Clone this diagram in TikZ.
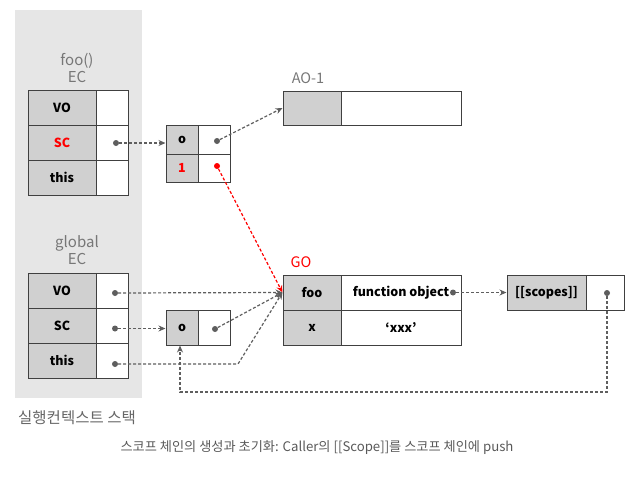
\documentclass[tikz,border=0pt]{standalone}
\usepackage{fontspec}
\setmainfont{Noto Sans CJK KR}
\usetikzlibrary{arrows.meta,positioning}
\definecolor{panelgray}{HTML}{E6E6E6}
\definecolor{cellgray}{HTML}{D0D0D0}
\definecolor{linegray}{HTML}{5E5E5E}
\definecolor{textgray}{HTML}{777777}

\begin{document}
\begin{tikzpicture}[x=1pt, y=-1pt,
    cell/.style={rectangle, draw=black!75, line width=1pt, minimum height=35pt,
                 inner sep=0pt, text centered, font=\bfseries\fontsize{12.5}{14}\selectfont},
    keycell/.style={cell, fill=cellgray},
    valcell/.style={cell, fill=white},
    dot/.style={circle, fill=linegray, inner sep=0pt, minimum size=6pt},
    reddot/.style={dot, fill=red},
    ptr/.style={dash pattern=on 3pt off 2pt, line width=1.2pt, draw=linegray,
                -{Stealth[length=7pt,width=6pt]}},
    redptr/.style={ptr, draw=red, -{Stealth[length=7pt,width=6pt,red]}},
    title/.style={align=center, text=textgray, font=\fontsize{15}{17}\selectfont}
]
\useasboundingbox (0,0) rectangle (634,483);

% Stack panel
\node[fill=panelgray, minimum width=127pt, minimum height=388pt, inner sep=0pt] (stack) at (78.5,204) {};

% foo() EC
\node[title] (fooec) at (77,68) {foo()\\EC};
\node[keycell, minimum width=68pt] (fvo-k) at (62,107.5) {VO};
\node[valcell, minimum width=32pt] (fvo-v) at (112,107.5) {};
\node[keycell, minimum width=68pt, text=red] (fsc-k) at (62,142.5) {SC};
\node[valcell, minimum width=32pt] (fsc-v) at (112,142.5) {};
\node[keycell, minimum width=68pt] (fthis-k) at (62,177.5) {this};
\node[valcell, minimum width=32pt] (fthis-v) at (112,177.5) {};

% foo scope chain
\node[keycell, minimum width=32pt, minimum height=28.5pt] (fch0-k) at (182,139.75) {o};
\node[valcell, minimum width=32pt, minimum height=28.5pt] (fch0-v) at (214,139.75) {};
\node[keycell, minimum width=32pt, minimum height=28.5pt, text=red] (fch1-k) at (182,168.25) {1};
\node[valcell, minimum width=32pt, minimum height=28.5pt] (fch1-v) at (214,168.25) {};

% AO-1
\node[text=textgray, font=\fontsize{14.5}{16}\selectfont] (aolabel) at (308,78) {AO-1};
\node[keycell, minimum width=58pt, minimum height=34pt] (ao-k) at (312,108) {};
\node[valcell, minimum width=120pt, minimum height=34pt] (ao-v) at (401,108) {};

% global EC
\node[title] (globalec) at (77,250) {global\\EC};
\node[keycell, minimum width=68pt] (gvo-k) at (62,290.5) {VO};
\node[valcell, minimum width=32pt] (gvo-v) at (112,290.5) {};
\node[keycell, minimum width=68pt] (gsc-k) at (62,325.5) {SC};
\node[valcell, minimum width=32pt] (gsc-v) at (112,325.5) {};
\node[keycell, minimum width=68pt] (gthis-k) at (62,360.5) {this};
\node[valcell, minimum width=32pt] (gthis-v) at (112,360.5) {};

% global scope chain
\node[keycell, minimum width=32pt] (gch0-k) at (182,327.5) {o};
\node[valcell, minimum width=32pt] (gch0-v) at (214,327.5) {};

% GO
\node[text=red, font=\fontsize{14.5}{16}\selectfont] (golabel) at (301,262) {GO};
\node[keycell, minimum width=58pt] (gofoo-k) at (312,292.5) {foo};
\node[valcell, minimum width=120pt] (gofoo-v) at (401,292.5) {function object};
\node[keycell, minimum width=58pt] (gox-k) at (312,327.5) {x};
\node[valcell, minimum width=120pt] (gox-v) at (401,327.5) {‘xxx’};

% [[scopes]]
\node[keycell, minimum width=79pt] (scopes-k) at (546.5,292.5) {[[scopes]]};
\node[valcell, minimum width=38pt] (scopes-v) at (605,292.5) {};

% Pointer dots
\node[dot] (fsc-d) at (116,143) {};
\node[dot] (fch0-d) at (217,141) {};
\node[reddot] (fch1-d) at (217,166) {};
\node[dot] (gvo-d) at (115,293) {};
\node[dot] (gsc-d) at (115,328.5) {};
\node[dot] (gthis-d) at (115,364) {};
\node[dot] (gch0-d) at (215,329) {};
\node[dot] (fobj-d) at (453,292.5) {};
\node[dot] (scopes-d) at (607,293) {};

% Bend points
\coordinate (thisbend) at (238,364);
\coordinate (loopr) at (607,392);
\coordinate (loopl) at (180,392);

% Pointers
\draw[ptr] (fsc-d) -- (fsc-d -| fch0-k.west);
\draw[ptr] (fch0-d) -- (ao-k.west);
\draw[redptr] (fch1-d) -- (gofoo-k.west);
\draw[ptr] (gvo-d) -- (gofoo-k.west);
\draw[ptr] (gsc-d) -- (gsc-d -| gch0-k.west);
\draw[ptr] (gch0-d) -- (gofoo-k.west);
\draw[ptr] (gthis-d) -- (thisbend) -- (gofoo-k.west);
\draw[ptr] (fobj-d) -- (scopes-k.west);
\draw[ptr] (scopes-d) -- (loopr) -- (loopl) -- (loopl |- gch0-k.south);

% Labels
\node[text=black!60, font=\fontsize{15.5}{17}\selectfont] (stacklabel) at (77,418) {실행컨텍스트 스택};
\node[text=black!65, font=\fontsize{13.2}{15}\selectfont] (caption) at (317,448) {스코프 체인의 생성과 초기화: Caller의 [[Scope]]를 스코프 체인에 push};

\end{tikzpicture}
\end{document}
